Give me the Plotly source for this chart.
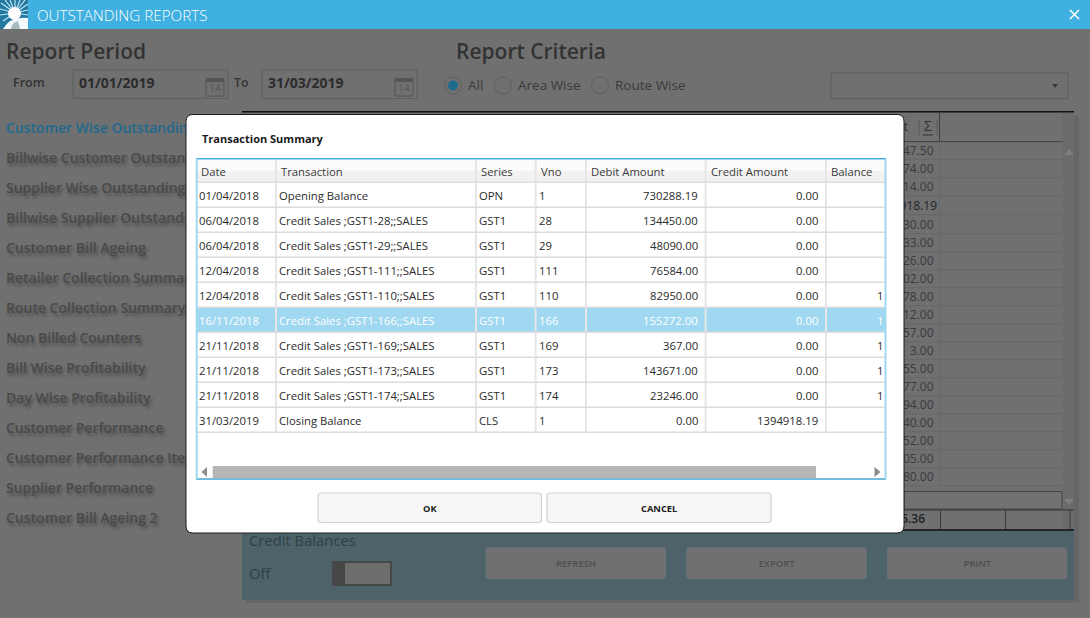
import plotly.graph_objects as go

WIDTH = 1090
HEIGHT = 618

# The list on the left is cut off by the dialog, so only what can be read is typed here
menu_items = ["Customer Wise Outstandin", "Billwise Customer Outstan", "Supplier Wise Outstanding",
              "Billwise Supplier Outstand", "Customer Bill Ageing", "Retailer Collection Summa",
              "Route Collection Summary", "Non Billed Counters", "Bill Wise Profitability",
              "Day Wise Profitability", "Customer Performance", "Customer Performance Ite",
              "Supplier Performance", "Customer Bill Ageing 2"]

headers = ["Date", "Transaction", "Series", "Vno", "Debit Amount", "Credit Amount", "Balance"]
dates = ["01/04/2018", "06/04/2018", "06/04/2018", "12/04/2018", "12/04/2018",
         "16/11/2018", "21/11/2018", "21/11/2018", "21/11/2018", "31/03/2019"]
transactions = ["Opening Balance", "Credit Sales ;GST1-28;;SALES", "Credit Sales ;GST1-29;;SALES",
                "Credit Sales ;GST1-111;;SALES", "Credit Sales ;GST1-110;;SALES", "Credit Sales ;GST1-166;;SALES",
                "Credit Sales ;GST1-169;;SALES", "Credit Sales ;GST1-173;;SALES", "Credit Sales ;GST1-174;;SALES",
                "Closing Balance"]
series = ["OPN", "GST1", "GST1", "GST1", "GST1", "GST1", "GST1", "GST1", "GST1", "CLS"]
vnos = ["1", "28", "29", "111", "110", "166", "169", "173", "174", "1"]
debits = ["730288.19", "134450.00", "48090.00", "76584.00", "82950.00",
          "155272.00", "367.00", "143671.00", "23246.00", "0.00"]
credits = ["0.00", "0.00", "0.00", "0.00", "0.00", "0.00", "0.00", "0.00", "0.00", "1394918.19"]
balances = ["", "", "", "", "1", "1", "1", "1", "1", ""]  # the rest of the column is scrolled away

back_amounts = ["47.50", "74.00", "14.00", "918.19", "30.00", "33.00", "26.00", "02.00", "78.00",
                "12.00", "57.00", "3.00", "55.00", "77.00", "94.00", "40.00", "52.00", "05.00", "80.00"]
back_buttons = ["REFRESH", "EXPORT", "PRINT"]

FONT = "Open Sans"
BG = "#707070"


def rect(fig, x0, y0, x1, y1, fill=None, line=None, width=1, layer="below"):
    fig.add_shape(type="rect", x0=x0, y0=y0, x1=x1, y1=y1, layer=layer,
                  fillcolor=fill if fill else "rgba(0,0,0,0)",
                  line=dict(color=line if line else "rgba(0,0,0,0)", width=width if line else 0))


def round_rect(fig, x0, y0, x1, y1, r, fill, line, width=1, layer="below"):
    fig.add_shape(type="path", layer=layer, fillcolor=fill, line=dict(color=line, width=width),
                  path=f"M {x0 + r} {y0} L {x1 - r} {y0} Q {x1} {y0} {x1} {y0 + r} L {x1} {y1 - r} Q {x1} {y1} {x1 - r} {y1} "
                       f"L {x0 + r} {y1} Q {x0} {y1} {x0} {y1 - r} L {x0} {y0 + r} Q {x0} {y0} {x0 + r} {y0} Z")


def hline(fig, x0, x1, y, color, width=1, layer="below"):
    fig.add_shape(type="line", x0=x0, x1=x1, y0=y, y1=y, layer=layer, line=dict(color=color, width=width))


def vline(fig, x, y0, y1, color, width=1, layer="below"):
    fig.add_shape(type="line", x0=x, x1=x, y0=y0, y1=y1, layer=layer, line=dict(color=color, width=width))


def back_text(fig, x, y, text, size, color, anchor="middle right", weight=400, shadow="none"):
    # Behind the dialog: a trace, so the dialog shape cuts it off
    fig.add_trace(go.Scatter(x=[x], y=[y + 1.5], text=[text], mode="text", textposition=anchor, hoverinfo="skip",
                             textfont=dict(family=FONT, size=size, color=color, weight=weight, shadow=shadow)))


def top_text(fig, x, y, text, size, color, anchor="left", weight=400):
    # On the dialog: annotations stay above every shape
    if anchor == "left":
        x -= 1.5
    fig.add_annotation(x=x, y=y - 1, text=text, showarrow=False, xanchor=anchor, yanchor="middle", borderpad=0,
                       font=dict(family=FONT, size=size, color=color, weight=weight))


def draw_window(fig):
    # Title bar
    rect(fig, 0, 0, WIDTH, 29, fill="#3fb0e0")
    rect(fig, 0, 0, 28, 29, fill="#23789f")
    for x1, y1 in [(1, 3), (5, 0), (10, 0), (15, 0), (20, 0), (25, 0), (28, 4), (28, 10), (0, 9), (0, 15), (3, 21), (28, 15)]:
        fig.add_shape(type="line", x0=15, y0=13, x1=x1, y1=y1, layer="below", line=dict(color="#bfe6f5", width=1.2))
    fig.add_shape(type="circle", x0=8, y0=7, x1=21, y1=20, layer="below", fillcolor="#ffffff", line_width=0)
    fig.add_shape(type="path", path="M 3 29 Q 10 16 28 18 L 28 29 Z", layer="below", fillcolor="#f2fafd", line_width=0)
    fig.add_shape(type="path", path="M 11 29 Q 12 22 18 21 L 20 29 Z", layer="below", fillcolor="#a9bcc4", line_width=0)
    top_text(fig, 37.5, 15.5, "OUTSTANDING REPORTS", 15.2, "#ffffff", weight=300)
    fig.add_shape(type="line", x0=1070, y0=10, x1=1079, y1=19, layer="below", line=dict(color="#ffffff", width=1.6))
    fig.add_shape(type="line", x0=1070, y0=19, x1=1079, y1=10, layer="below", line=dict(color="#ffffff", width=1.6))

    # Report period and criteria
    back_text(fig, 6, 52, "Report Period", 21, "#333333", weight=600)
    back_text(fig, 456, 52, "Report Criteria", 21, "#333333", weight=600)
    back_text(fig, 13, 82, "From", 12.5, "#333333", weight=600)
    back_text(fig, 234, 82, "To", 12.5, "#333333", weight=600)
    for box_x, date in [(73, "01/01/2019"), (262, "31/03/2019")]:
        rect(fig, box_x, 70, box_x + 155, 98.5, line="#5f5f5f")
        back_text(fig, box_x + 6, 82.5, date, 14, "#2c2c2c", weight=700)
        rect(fig, box_x + 133, 80, box_x + 151, 96, line="#555555")
        rect(fig, box_x + 133, 78, box_x + 151, 82, fill="#555555")
        back_text(fig, box_x + 142, 88, "14", 10, "#555555", anchor="middle center")
    for cx, label in [(453, "All"), (503, "Area Wise"), (600, "Route Wise")]:
        fig.add_shape(type="circle", x0=cx - 8.5, y0=77, x1=cx + 8.5, y1=94, layer="below",
                      line=dict(color="#5f5f5f", width=1))
        back_text(fig, cx + 15, 85, label, 13.5, "#3a3a3a")
    fig.add_shape(type="circle", x0=448, y0=80.5, x1=458, y1=90.5, layer="below", fillcolor="#1e6c90", line_width=0)
    rect(fig, 831, 73, 1068, 98.5, line="#5f5f5f")
    fig.add_shape(type="path", path="M 1052 84 L 1058 84 L 1055 88 Z", layer="below", fillcolor="#3a3a3a", line_width=0)

    # Report list
    for i, item in enumerate(menu_items):
        color = "#1e6a8e" if i == 0 else "#4a4a4a"
        shadow = "none" if i == 0 else "2px 3px 3px #505050"
        back_text(fig, 6, 128 + i * 30, item, 14, color, weight=600, shadow=shadow)

    # Grid behind the dialog
    rect(fig, 1074, 116, 1079, 602, fill="#666666")
    rect(fig, 1063, 113, 1074, 530, fill="#6a6c6c")
    hline(fig, 242, 1074, 111.7, "#111111", width=1.5)
    hline(fig, 904, 1063, 141.7, "#3f3f3f", width=1)
    vline(fig, 939.5, 112, 141.7, "#3f3f3f")
    vline(fig, 919, 120, 135, "#5a5a5a")
    vline(fig, 937, 120, 135, "#5a5a5a")
    back_text(fig, 928, 126, "\u03a3", 14, "#333333", anchor="middle center")
    hline(fig, 923, 933, 135, "#333333")
    back_text(fig, 906, 126.5, "t", 12, "#333333", anchor="middle center")
    fig.add_shape(type="path", path="M 1064 155 L 1074 155 L 1069 149 Z", layer="below", fillcolor="#7d7f7f", line_width=0)
    fig.add_shape(type="path", path="M 1064 499 L 1074 499 L 1069 505 Z", layer="below", fillcolor="#7d7f7f", line_width=0)
    for i, amount in enumerate(back_amounts):
        y = 150.7 + i * 18 + (1 if i == 3 else 2 if i > 3 else 0)
        hline(fig, 904, 1063, y + 9, "#676767")
        vline(fig, 939.5, y - 9, y + 9, "#676767")
        right = 937 if i == 3 else 933.5
        back_text(fig, right, y - 0.5, amount, 12, "#242424" if i == 3 else "#3a3a3a", anchor="middle left")
    rect(fig, 904, 491.5, 1062, 509, fill="#727272", line="#444444")
    hline(fig, 904, 1074, 510, "#333333")
    back_text(fig, 925, 518, "5.36", 12, "#222222", anchor="middle left", weight=600)
    for x in [940.5, 1005.5, 1070]:
        vline(fig, x, 510, 530, "#3a3a3a")

    # Bottom panel
    rect(fig, 242, 530, 1074, 600, fill="#4d6269")
    rect(fig, 246, 600, 1079, 603, fill="#666666")
    hline(fig, 242, 1074, 530, "#111111", width=1.5)
    back_text(fig, 249, 540.5, "Credit Balances", 14.8, "#2f4148")
    back_text(fig, 249, 573.5, "Off", 14.8, "#2f4148")
    rect(fig, 333, 562, 391, 585, fill="#6c6e6e", line="#474747", width=2)
    rect(fig, 332, 561, 345, 586, fill="#474747")
    for i, label in enumerate(back_buttons):
        x0 = 486 + i * 200.7
        round_rect(fig, x0, 548, x0 + 179.5, 578.7, 2, BG, "#6a7476")
        back_text(fig, x0 + 90, 563, label, 9.5, "#4f4f4f", anchor="middle center", weight=600)


def draw_dialog(fig):
    round_rect(fig, 186, 114.5, 904, 533, 7, "#ffffff", "#1c1c1c", layer="above")
    top_text(fig, 202, 139, "Transaction Summary", 11, "#1a1a1a", weight=700)

    col_lines = [276, 476, 535.6, 586, 705.6, 826]
    head_x = [201.6, 281.5, 481.4, 541, 591.6, 711, 831.8]
    left_x = [199.5, 279.5, 479.3, 539.5]
    debit_x, credit_x, balance_x = 699.3, 819.2, 884
    head_bottom, row_h = 182.3, 25

    rect(fig, 197, 159.5, 885, 171, fill="#fbfbfb", layer="above")
    rect(fig, 197, 171, 885, 182.3, fill="#f2f2f2", layer="above")
    rect(fig, 197, 307.3, 885, 332.3, fill="#9fd8f0", layer="above")
    for x in col_lines:
        vline(fig, x, 160, 432.3, "#e6e6e6", width=2, layer="above")
    for i in range(11):
        hline(fig, 197, 885, head_bottom + i * row_h, "#dcdcdc", width=1.5, layer="above")
    for x, text in zip(head_x, headers):
        top_text(fig, x, 172, text, 11.3, "#3a3a3a")

    for i in range(len(dates)):
        y = 196.5 + i * row_h
        color = "#ffffff" if i == 5 else "#2b2b2b"
        for x, text in zip(left_x, [dates[i], transactions[i], series[i], vnos[i]]):
            top_text(fig, x, y, text, 11.3, color)
        top_text(fig, debit_x, y, debits[i], 11.3, color, anchor="right")
        top_text(fig, credit_x, y, credits[i], 11.3, color, anchor="right")
        if balances[i]:
            top_text(fig, balance_x, y, balances[i], 11.3, color, anchor="right")

    # Table frame and its scroll bar
    hline(fig, 196, 886, 158.7, "#45b1e0", width=1.5, layer="above")
    hline(fig, 196, 886, 479, "#45a5cf", width=1.5, layer="above")
    vline(fig, 196.7, 158.7, 479, "#9ed8f0", width=2, layer="above")
    vline(fig, 885.5, 158.7, 479, "#9ed8f0", width=2, layer="above")
    rect(fig, 212.7, 466, 816, 478, fill="#b5b5b5", layer="above")
    fig.add_shape(type="path", path="M 207 467 L 207 477 L 201.5 472 Z", layer="above", fillcolor="#8c8c8c", line_width=0)
    fig.add_shape(type="path", path="M 874.5 467 L 874.5 477 L 880.5 472 Z", layer="above", fillcolor="#8c8c8c", line_width=0)

    # Buttons
    for x0, x1, label in [(318, 541.5, "OK"), (547, 771, "CANCEL")]:
        round_rect(fig, x0, 493, x1, 522.5, 3, "#f6f6f6", "#d2d2d2", width=1.2, layer="above")
        top_text(fig, (x0 + x1) / 2, 509, label, 9.3, "#222222", anchor="center", weight=700)


def main() -> None:
    fig = go.Figure()
    draw_window(fig)
    draw_dialog(fig)

    fig.update_layout(
        width=WIDTH,
        height=HEIGHT,
        margin=dict(l=0, r=0, t=0, b=0),
        paper_bgcolor=BG,
        plot_bgcolor=BG,
        showlegend=False,
        xaxis=dict(range=[0, WIDTH], visible=False, fixedrange=True),
        yaxis=dict(range=[HEIGHT, 0], visible=False, fixedrange=True),
    )

    fig.write_html("out.html", config=dict(displayModeBar=False),
                   post_script="document.body.style.margin='0';document.body.style.overflow='hidden';")


if __name__ == "__main__":
    main()
